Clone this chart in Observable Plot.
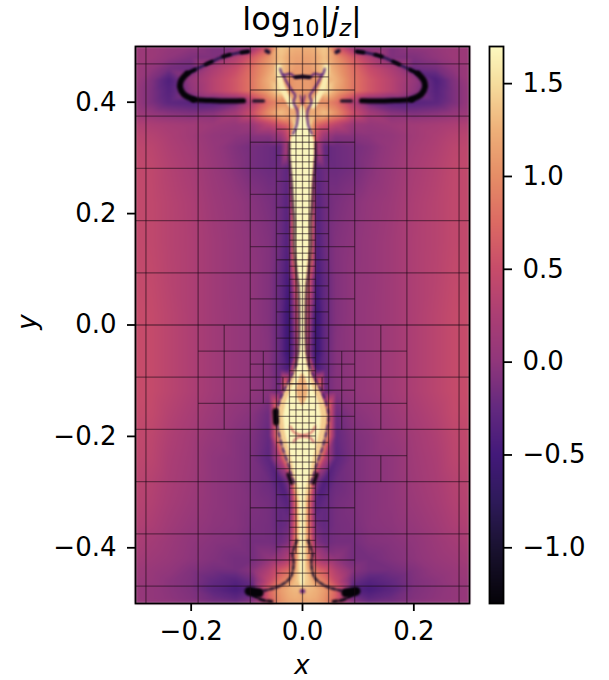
<!DOCTYPE html>
<html><head><meta charset="utf-8">
<script src="https://cdn.jsdelivr.net/npm/d3@7"></script>
<script src="https://cdn.jsdelivr.net/npm/@observablehq/plot@0.6"></script>
<style>
html,body{margin:0;padding:0;background:#fff;width:609px;height:680px;font-family:"DejaVu Sans",sans-serif;color:#000}
#wrap{position:relative;width:609px;height:680px}
#wrap svg{position:absolute;left:0;top:0;background:transparent}
.t{position:absolute;white-space:nowrap}
.soft{filter:blur(1px)}
.soft2{filter:blur(1px)}
.sb{font-size:.7em;position:relative;top:.25em}
</style></head><body>
<div id="wrap">
<div class="t" style="left:0;width:604px;text-align:center;top:0;height:38px;line-height:38px;font-size:32px">log<span class="sb">10</span>|<i>j<span class="sb">z</span></i>|</div>
<div class="t" style="left:0;width:604px;text-align:center;top:650px;height:30px;line-height:30px;font-size:26px"><i>x</i></div>
<div class="t" style="left:27px;top:322px;line-height:30px;font-size:26px;transform:translate(-50%,-50%) rotate(-90deg)"><i>y</i></div>
</div>
<script>
// Colour bar stops
const colorValues = [-1.3,-1.0,-0.75,-0.5,-0.25,0,0.25,0.5,0.75,1.0,1.25,1.5,1.7];
const colorStops = ["#050308","#1a1231","#2e1a5a","#43197a","#63297f","#90367b","#ab3e74","#c74c6a","#dc6a63","#e58d66","#eeb079","#f6dd9d","#fcf9c0"];

// Background field: |x| columns (mirrored, the picture is symmetric), y rows
const fieldX = [0,.012,.025,.04,.06,.09,.12,.16,.2,.24,.27,.3];
const fieldY = [.5,.48,.46,.44,.42,.40,.38,.36,.34,.32,.28,.22,.15,.08,.02,-.05,-.08,-.12,-.16,-.2,-.24,-.28,-.32,-.36,-.39,-.42,-.44,-.46,-.475,-.49,-.5];
const fieldZ = [
[1.25,1.25,1.3,1.4,.6,.05,-.1,-.1,0,.05,.1,.1],
[1.15,1.15,1.2,1.35,1.05,.65,.3,-.1,-.1,0,.1,.1],
[1.1,1.1,1.2,1.4,1.15,.8,.5,.25,-.2,-.15,0,.1],
[1.1,1.1,1.0,1.3,1.25,.85,.6,.35,.05,-.4,-.1,.1],
[1.1,1.1,1.1,1.55,1.2,.85,.6,.35,0,-.35,-.12,.05],
[.9,1.3,1.0,1.0,.8,.3,-.2,-.35,-.35,-.3,-.12,.05],
[1.6,1.2,1.2,1.35,1.05,.55,.2,-.05,-.1,-.05,.03,.12],
[1.7,1.5,.75,.6,.4,.1,.05,.1,.15,.2,.25,.3],
[1.7,1.5,.5,.1,-.05,-.05,-.02,.03,.15,.25,.33,.38],
[1.7,1.6,.3,-.25,-.2,-.15,-.08,.05,.18,.28,.38,.42],
[1.7,1.7,-.3,-.2,-.2,-.15,-.05,.08,.22,.32,.42,.45],
[1.7,1.6,-.35,-.2,-.12,-.05,.03,.12,.26,.35,.43,.45],
[1.7,1.5,-.4,-.2,-.08,-.02,.05,.15,.27,.35,.43,.45],
[1.7,.6,-.5,-.25,-.08,0,.05,.15,.27,.36,.45,.47],
[1.6,.2,-.6,-.25,-.08,0,.06,.15,.27,.38,.47,.5],
[1.5,0,-.6,-.25,-.06,0,.06,.15,.27,.38,.47,.5],
[1.6,1.4,-.45,-.25,-.06,0,.06,.15,.27,.38,.47,.5],
[1.3,1.4,1.5,-.2,-.06,0,.06,.15,.27,.38,.47,.5],
[1.6,1.6,1.6,1.3,-.2,-.05,0,.1,.22,.33,.45,.47],
[1.5,1.5,1.5,1.3,-.25,-.1,-.05,.05,.17,.28,.4,.45],
[1.6,1.5,1.4,.3,-.3,-.12,-.05,0,.15,.25,.38,.42],
[1.6,1.5,-.1,-.4,-.2,-.12,-.05,0,.13,.23,.33,.38],
[1.7,.8,-.35,-.25,-.15,-.1,-.05,0,.1,.2,.3,.35],
[1.7,.8,-.2,-.25,-.15,-.12,-.05,-.02,.05,.15,.25,.3],
[1.7,.9,-.1,-.2,-.15,-.15,-.08,-.05,0,.1,.17,.25],
[1.7,1.0,.3,.1,0,-.15,-.15,-.08,-.02,.07,.12,.18],
[1.6,1.2,.75,.6,.3,-.05,-.15,-.15,-.08,.02,.07,.12],
[1.5,1.35,1.05,.85,.45,-.2,-.35,-.25,-.1,-.03,.05,.08],
[1.3,1.3,1.25,1.1,.7,-.35,-.45,-.3,-.1,-.03,.02,.06],
[1.2,1.25,1.2,1.05,.65,-.15,-.3,-.2,-.08,-.02,.02,.06],
[1.15,1.15,1.15,1.0,.55,0,-.15,-.12,-.03,.02,.05,.07]
];

// Current sheet and bubble: y and half widths
const sheetY = [.398,.385,.367,.349,.328,.304,.280,.258,.211,.188,.139,.093,.071,.046,.012,-.010,-.048,-.071,-.087,-.105,-.123,-.141,-.164,-.188,-.220,-.252,-.270,-.288,-.311,-.373,-.432,-.462,-.47];
const sheetW = [0,.004,.009,.016,.022,.022,.020,.018,.015,.013,.013,.009,.006,.005,.0045,.0045,.006,.010,.016,.025,.034,.041,.045,.042,.034,.023,.018,.011,.008,.007,.007,.007,.004];
const coreW  = [0,.003,.008,.015,.021,.021,.019,.017,.014,.012,.012,.008,.005,.004,.0035,.0035,.005,.008,.011,.016,.023,.030,.034,.032,.025,.017,.013,.008,.005,.004,.004,.004,.002];
const patchY = [-.088,-.10,-.115,-.13,-.145];
const patchW = [.002,.007,.011,.009,.001];

// Dark filaments: half of each curve, as (x, y) pairs
const topArcX = [-.097,-.118,-.142,-.169,-.190,-.208];
const topArcY = [.491,.488,.482,.470,.460,.451];
const sideX = [-.208,-.218,-.220,-.214,-.196];
const sideY = [.451,.439,.427,.415,.405];
const lowX = [-.196,-.166,-.130,-.106];
const lowY = [.405,.403,.402,.4025];
const gapX = [-.088,-.070];
const gapY = [.402,.402];
const dotX = [-.065,-.061];
const dotY = [.492,.490];
const cupX = [-.040,-.035,-.022,-.013,0];
const cupY = [.460,.449,.451,.445,.446];
const cupCoreX = [-.013,0];
const cupCoreY = [.445,.446];
const innerX = [-.035,-.028,-.019,-.013,-.016,-.009,-.010,-.017];
const innerY = [.449,.436,.421,.412,.400,.384,.361,.343];
const spikeX = [-.004,0];
const spikeY = [.412,.397];
const paleX = [-.043,-.039,-.028,-.019];
const paleY = [.463,.433,.409,.394];
const footX = [-.010,-.018,-.016,-.0215,-.040,-.061,-.085];
const footY = [-.387,-.411,-.426,-.453,-.468,-.475,-.480];
const footLowX = [-.091,-.073,-.055];
const footLowY = [-.4826,-.4934,-.4964];
const blobX = [-.096,-.078];
const blobY = [-.478,-.481];
const bubbleBlobX = [-.0485,-.0475];
const bubbleBlobY = [-.155,-.175];
const neckBlobX = [-.026,-.020];
const neckBlobY = [-.268,-.284];
const centreDotX = [-.001,.001];
const centreDotY = [-.478,-.478];
const arc1X = [-.022,-.016,-.007,.008,.017,.023];
const arc1Y = [-.182,-.192,-.197,-.197,-.192,-.182];
const arc2X = [-.016,-.010,.005,.014,.02];
const arc2Y = [-.210,-.2025,-.200,-.2025,-.210];

// Refinement grid, in units of 3/256
const u = 3/256, yTop = .5/u, yBot = -.5/u;
const fullRows = [40,32,24,16,8,0,-8,-16,-24,-32,-40];
const rows8 = [36,28,20,12,4,-6,-10,-28,-36];
const rows4 = [38,34,30,26,22,18,14,10,6,2,-2,-18,-22,-26,-30,-34,-38,-9];
const rows16 = [-4,-12];
const spans = [[-4,8,-14],[-8,16,-20]];
const fineRows = d3.range(29,-36,-2);
const fullCols = [-24,-16,-8,-4,0,4,8,16,24];
const colSpans = [[-2,yTop,-40],[2,yTop,-40],[-1,30,-35],[1,30,-35],[-12,yTop,40],[12,yTop,40],[-12,0,-16],[12,0,-16],[12,-20,-24],[-6,-4,-12],[6,-4,-16],[-3,-8,-10],[3,-8,-10]];

const xTicks = [-.2,0,.2];
const yTicks = [-.4,-.2,0,.2,.4];
const barTicks = [-1,-.5,0,.5,1,1.5];

const W = 609, H = 680;
const color = {type:"linear", domain:colorValues, range:colorStops, interpolate:"rgb", clamp:true};

const points = [];
fieldY.forEach((y,i)=>fieldX.forEach((x,j)=>{
  points.push({x, y, v:fieldZ[i][j]});
  if (x>0) points.push({x:-x, y, v:fieldZ[i][j]});
}));

const sheet = sheetY.map((y,i)=>({y, w:sheetW[i], c:coreW[i]}));
const patch = patchY.map((y,i)=>({y, w:patchW[i]}));

function fil(xs, ys, v, w, extra={}) {
  const d = [];
  xs.forEach((x,i)=>d.push({x, y:ys[i], s:"l"}));
  xs.forEach((x,i)=>d.push({x:-x, y:ys[i], s:"r"}));
  return Plot.line(d,{x:"x",y:"y",z:"s",stroke:()=>v,strokeWidth:w,curve:"catmull-rom",className:"soft2",...extra});
}
function one(xs, ys, v, w) {
  return Plot.line(xs.map((x,i)=>({x,y:ys[i]})),{x:"x",y:"y",stroke:()=>v,strokeWidth:w,curve:"catmull-rom",className:"soft2"});
}
const thinRows = sheet.filter(d=>d.y<.345 && d.y>-.075);
const bubbleRows = sheet.filter(d=>d.y<=-.071 && d.y>-.30);

const links = [];
const hl = (j,a,b)=>links.push({x1:a*u,x2:b*u,y1:j*u,y2:j*u});
const vl = (k,a,b)=>links.push({x1:k*u,x2:k*u,y1:a*u,y2:b*u});
fullRows.forEach(j=>hl(j,-25.6,25.6));
rows8.forEach(j=>hl(j,-8,8));
rows4.forEach(j=>hl(j,-4,4));
rows16.forEach(j=>hl(j,-16,16));
spans.forEach(([a,b,j])=>hl(j,a,b));
fineRows.forEach(j=>hl(j,-2,2));
fullCols.forEach(k=>vl(k,yTop,yBot));
colSpans.forEach(([k,a,b])=>vl(k,a,b));

const textStyle = {fontFamily:"DejaVu Sans", fontSize:"26px", color:"#000", background:"transparent", overflow:"visible"};

const main = Plot.plot({
  width:W, height:H, marginLeft:135, marginRight:140, marginTop:46, marginBottom:77,
  x:{domain:[-.3,.3]}, y:{domain:[-.5,.5]}, color, style:textStyle,
  marks:[
    Plot.raster(points,{x:"x",y:"y",fill:"v",interpolate:"barycentric",pixelSize:1,className:"soft"}),
    fil(paleX,paleY,1.6,6,{className:"soft"}),
    Plot.areaX(sheet,{x1:d=>-d.w,x2:d=>d.w,y:"y",fill:()=>1.4,className:"soft2"}),
    Plot.areaX(sheet,{x1:d=>-d.c,x2:d=>d.c,y:"y",fill:()=>1.68,className:"soft2"}),
    Plot.areaX(patch,{x1:d=>-d.w,x2:d=>d.w,y:"y",fill:()=>1.25,className:"soft"}),
    fil(thinRows.map(d=>-(d.w+.0018)),thinRows.map(d=>d.y),-.9,1.8),
    fil(bubbleRows.map(d=>-(d.w+.002)),bubbleRows.map(d=>d.y),-.6,2,{strokeDasharray:"5 3"}),
    fil(topArcX,topArcY,-.8,2.8),
    fil(topArcX,topArcY,-1.3,3.5,{strokeDasharray:"7 12"}),
    fil(sideX,sideY,-1.3,6),
    fil(lowX,lowY,-1.3,5),
    fil(gapX,gapY,-1.1,3),
    fil(dotX,dotY,-1,4),
    fil(cupX,cupY,-.4,2),
    fil(cupCoreX,cupCoreY,-1.2,3.5),
    fil(innerX,innerY,-.35,2),
    fil(spikeX,spikeY,-.2,1.6),
    fil(footX,footY,-1,2.4,{strokeDasharray:"4 2.5"}),
    fil(footLowX,footLowY,-1.2,3,{strokeDasharray:"6 3"}),
    fil(blobX,blobY,-1.3,9),
    one(bubbleBlobX,bubbleBlobY,-1.3,6),
    fil(neckBlobX,neckBlobY,-1.2,3.5),
    one(centreDotX,centreDotY,-.2,4.5),
    one(arc1X,arc1Y,.7,1.8),
    one(arc2X,arc2Y,.6,1.8),
    Plot.link(links,{x1:"x1",y1:"y1",x2:"x2",y2:"y2",stroke:"#1a0a14",strokeOpacity:.5,strokeWidth:1.3}),
    Plot.frame({stroke:"#000",strokeWidth:1.8}),
    Plot.axisX({ticks:xTicks,tickSize:8,tickPadding:10,strokeWidth:1.8,tickFormat:".1f",label:null,fontSize:26}),
    Plot.axisY({ticks:yTicks,tickSize:8,tickPadding:11,strokeWidth:1.8,tickFormat:".1f",label:null,fontSize:26})
  ]
});

const bar = Plot.plot({
  width:W, height:H, marginLeft:489, marginRight:106, marginTop:46, marginBottom:77,
  x:{domain:[0,1],axis:null}, y:{domain:[-1.3,1.7],axis:null}, color, style:textStyle,
  marks:[
    Plot.raster({fill:(x,y)=>y,x1:0,x2:1,y1:-1.3,y2:1.7,width:1,height:557}),
    Plot.frame({stroke:"#000",strokeWidth:1.8}),
    Plot.axisY({anchor:"right",ticks:barTicks,tickSize:8,tickPadding:11,strokeWidth:1.8,tickFormat:".1f",label:null,fontSize:26})
  ]
});
const wrap = document.getElementById("wrap");
wrap.prepend(bar); wrap.prepend(main);
</script>
</body></html>
